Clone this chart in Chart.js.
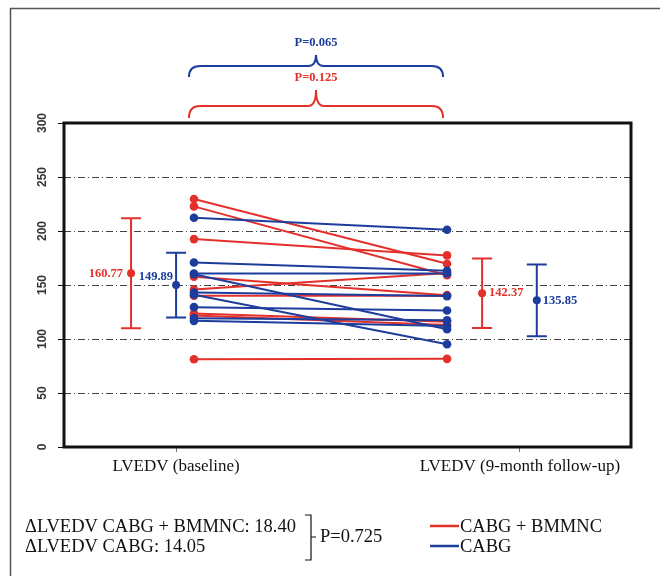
<!DOCTYPE html>
<html>
<head>
<meta charset="utf-8">
<script src="https://cdn.jsdelivr.net/npm/chart.js@4.4.0/dist/chart.umd.min.js"></script>
<style>
  body { margin: 0; background: #fff; }
  canvas { display: block; }
</style>
</head>
<body>
<canvas id="myChart" width="660" height="576"></canvas>
<script>
const categories = ["LVEDV (baseline)", "LVEDV (9-month follow-up)"];
const yTicks = [0, 50, 100, 150, 200, 250, 300];
const seriesNames = ["CABG + BMMNC", "CABG"];

// paired patient values, baseline -> follow-up
const redBaseline = [229.6, 222.8, 192.5, 157.6, 145.9, 140.0, 123.6, 121.8, 81.3];
const redFollowup = [169.6, 159.0, 177.4, 140.6, 161.0, 140.0, 116.0, 113.0, 81.6];
const blueBaseline = [212.2, 170.9, 160.7, 160.0, 143.1, 140.9, 129.5, 119.3, 116.8];
const blueFollowup = [201.1, 163.1, 160.7, 109.1, 139.7, 95.2, 126.4, 117.4, 112.1];

// group means with error bars
const redMean = [160.77, 142.37];
const redLow = [110.0, 110.3];
const redHigh = [211.7, 174.6];
const blueMean = [149.89, 135.85];
const blueLow = [119.9, 102.6];
const blueHigh = [179.8, 169.0];

const pBlue = "P=0.065";
const pRed = "P=0.125";
const pDelta = "P=0.725";
const deltaLabels = ["\u0394LVEDV CABG + BMMNC: 18.40", "\u0394LVEDV CABG: 14.05"];

const RED = "#e4302a";
const BLUE = "#1d3d9c";
const xBase = 1.052, xFollow = 1.788;
const redBarX = [0.869, 1.890];
const blueBarX = [1.0, 2.049];

const chartPlace = document.getElementById("myChart");
let myChart;

function pairSets(base, follow, color) {
  return base.map((v, i) => ({
    data: [{ x: xBase, y: v }, { x: xFollow, y: follow[i] }],
    showLine: true,
    borderColor: color,
    backgroundColor: color,
    borderWidth: 2,
    pointRadius: 4.3,
    pointBorderWidth: 0
  }));
}

function brace(ctx, x1, x2, yEnd, yLine, yPeak, color) {
  const xm = (x1 + x2) / 2, r = 11, c = 8;
  ctx.save();
  ctx.strokeStyle = color;
  ctx.lineWidth = 2;
  ctx.beginPath();
  ctx.moveTo(x1, yEnd);
  ctx.quadraticCurveTo(x1, yLine, x1 + r, yLine);
  ctx.lineTo(xm - c, yLine);
  ctx.quadraticCurveTo(xm, yLine, xm, yPeak);
  ctx.quadraticCurveTo(xm, yLine, xm + c, yLine);
  ctx.lineTo(x2 - r, yLine);
  ctx.quadraticCurveTo(x2, yLine, x2, yEnd);
  ctx.stroke();
  ctx.restore();
}

function errorBar(ctx, xs, ys, x, mean, lo, hi, color) {
  const px = xs.getPixelForValue(x);
  const pt = ys.getPixelForValue(hi), pb = ys.getPixelForValue(lo), pm = ys.getPixelForValue(mean);
  ctx.save();
  ctx.strokeStyle = color;
  ctx.fillStyle = color;
  ctx.lineWidth = 2;
  ctx.beginPath();
  ctx.moveTo(px, pt); ctx.lineTo(px, pb);
  ctx.moveTo(px - 10, pt); ctx.lineTo(px + 10, pt);
  ctx.moveTo(px - 10, pb); ctx.lineTo(px + 10, pb);
  ctx.stroke();
  ctx.beginPath();
  ctx.arc(px, pm, 4, 0, Math.PI * 2);
  ctx.fill();
  ctx.restore();
  return { px, pm };
}

const overlay = {
  id: "overlay",
  afterDraw(chart) {
    const ctx = chart.ctx;
    const a = chart.chartArea;
    const xs = chart.scales.x, ys = chart.scales.y;

    // outer figure border
    ctx.save();
    ctx.strokeStyle = "#555";
    ctx.lineWidth = 1.5;
    ctx.beginPath();
    ctx.moveTo(10.5, 576); ctx.lineTo(10.5, 8.5); ctx.lineTo(660, 8.5);
    ctx.stroke();

    // plot frame
    ctx.strokeStyle = "#111";
    ctx.lineWidth = 3;
    ctx.strokeRect(a.left, a.top, a.right - a.left, a.bottom - a.top);

    // rotated y tick labels
    ctx.fillStyle = "#333";
    ctx.font = "bold 12px 'Liberation Sans'";
    ctx.textAlign = "center";
    ctx.textBaseline = "middle";
    yTicks.forEach(v => {
      ctx.save();
      ctx.translate(43, ys.getPixelForValue(v));
      ctx.rotate(-Math.PI / 2);
      ctx.fillText(String(v), 0, 0);
      ctx.restore();
    });
    ctx.restore();

    // error bars and mean labels
    ctx.save();
    ctx.font = "bold 12.5px 'Liberation Serif'";
    ctx.textBaseline = "middle";
    let m = errorBar(ctx, xs, ys, redBarX[0], redMean[0], redLow[0], redHigh[0], RED);
    ctx.fillStyle = RED; ctx.textAlign = "right";
    ctx.fillText(redMean[0].toFixed(2), m.px - 8, m.pm);
    m = errorBar(ctx, xs, ys, blueBarX[0], blueMean[0], blueLow[0], blueHigh[0], BLUE);
    ctx.fillStyle = BLUE; ctx.textAlign = "right";
    ctx.fillText(blueMean[0].toFixed(2), m.px - 3, m.pm - 8);
    m = errorBar(ctx, xs, ys, redBarX[1], redMean[1], redLow[1], redHigh[1], RED);
    ctx.fillStyle = RED; ctx.textAlign = "left";
    ctx.fillText(redMean[1].toFixed(2), m.px + 7, m.pm);
    m = errorBar(ctx, xs, ys, blueBarX[1], blueMean[1], blueLow[1], blueHigh[1], BLUE);
    ctx.fillStyle = BLUE; ctx.textAlign = "left";
    ctx.fillText(blueMean[1].toFixed(2), m.px + 6, m.pm);
    ctx.restore();

    // significance braces
    const bx1 = xs.getPixelForValue(xBase) - 5, bx2 = xs.getPixelForValue(xFollow) - 4;
    const bxm = (bx1 + bx2) / 2;
    brace(ctx, bx1, bx2, 77, 66, 55, BLUE);
    brace(ctx, bx1, bx2, 118, 106, 90, RED);
    ctx.save();
    ctx.font = "bold 12.5px 'Liberation Serif'";
    ctx.textAlign = "center";
    ctx.textBaseline = "middle";
    ctx.fillStyle = BLUE;
    ctx.fillText(pBlue, bxm, 43);
    ctx.fillStyle = RED;
    ctx.fillText(pRed, bxm, 78);
    ctx.restore();

    // delta annotation and legend
    ctx.save();
    ctx.fillStyle = "#111";
    ctx.font = "18.5px 'Liberation Serif'";
    ctx.textAlign = "left";
    ctx.textBaseline = "middle";
    ctx.fillText(deltaLabels[0], 25, 527);
    ctx.fillText(deltaLabels[1], 25, 547);
    ctx.strokeStyle = "#111";
    ctx.lineWidth = 1.2;
    ctx.beginPath();
    ctx.moveTo(305, 515); ctx.lineTo(311, 515); ctx.lineTo(311, 560); ctx.lineTo(305, 560);
    ctx.moveTo(311, 537); ctx.lineTo(316, 537);
    ctx.stroke();
    ctx.fillText(pDelta, 320, 537);
    const cols = [RED, BLUE];
    seriesNames.forEach((s, i) => {
      const y = 526 + i * 20;
      ctx.strokeStyle = cols[i];
      ctx.lineWidth = 2.5;
      ctx.beginPath();
      ctx.moveTo(430, y); ctx.lineTo(459, y);
      ctx.stroke();
      ctx.fillStyle = "#111";
      ctx.fillText(s, 460, y + 1);
    });
    ctx.restore();
  }
};

function buildChart() {
  myChart = new Chart(chartPlace, {
    type: "scatter",
    data: {
      datasets: pairSets(blueBaseline, blueFollowup, BLUE).concat(pairSets(redBaseline, redFollowup, RED))
    },
    options: {
      responsive: false,
      animation: false,
      layout: { padding: { left: 0, right: 29, top: 123, bottom: 0 } },
      plugins: { legend: { display: false }, tooltip: { enabled: false } },
      scales: {
        x: {
          type: "linear",
          min: 0.674,
          max: 2.323,
          afterBuildTicks: s => { s.ticks = [{ value: 1 }, { value: 2 }]; },
          afterFit: s => { s.height = 129; },
          border: { display: false },
          grid: { drawOnChartArea: false, tickLength: 5, color: "#777" },
          ticks: {
            padding: 4,
            color: "#111",
            font: { family: "Liberation Serif", size: 17 },
            callback: v => categories[v - 1]
          }
        },
        y: {
          min: 0,
          max: 300,
          afterBuildTicks: s => { s.ticks = yTicks.map(v => ({ value: v })); },
          afterFit: s => { s.width = 64; },
          border: { display: false, dash: [7, 3, 1, 3] },
          grid: {
            tickLength: 6,
            tickColor: "#111",
            tickBorderDash: [],
            lineWidth: 1,
            color: c => (c.tick && (c.tick.value === 0 || c.tick.value === 300)) ? "rgba(0,0,0,0)" : "#444"
          },
          ticks: { display: false }
        }
      }
    },
    plugins: [overlay]
  });
}

buildChart();
</script>
</body>
</html>
